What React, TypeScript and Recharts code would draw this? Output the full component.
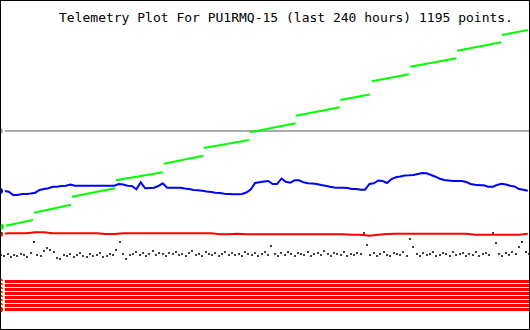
import { ComposedChart, Line, Scatter, XAxis, YAxis } from "recharts";

// x = hours into the 240 h window, y = plot units (0 at bottom, 330 at top)
const TITLE = "Telemetry Plot For PU1RMQ-15 (last 240 hours) 1195 points.";

// blue channel, one sample every 2 hours
const BLUE_STEP = 2;
const blueValues = [
  139, 139, 138.3, 135, 135, 136, 136, 136.5, 137.3, 140,
  141, 141.7, 143.3, 143.3, 144, 144.3, 145.5, 144.3, 144.3, 144.3,
  144.3, 144.3, 144.3, 144.3, 144.3, 144.3, 144.3, 146, 145.5, 144.3,
  144, 140.7, 147.7, 141.7, 142, 142.3, 144, 146.7, 142.3, 142.3,
  142.3, 142.3, 141.5, 141, 140, 139.7, 139.3, 138.5, 138, 137.3,
  137, 136.3, 136, 135.7, 135.7, 136, 137.5, 140.5, 147, 147.7,
  148.5, 149, 146, 146, 151.5, 148.3, 147.3, 149.7, 149.7, 147.7,
  146.7, 146.5, 146, 145, 144.3, 143.3, 142.5, 142.3, 142.3, 142,
  141, 141, 140.3, 140.3, 146, 146.7, 149.5, 149, 147, 151,
  152.7, 153.5, 154.5, 154.7, 155, 156, 157, 156.7, 155, 153.3,
  151.3, 150, 149.5, 149, 149, 149, 148, 146, 145.3, 144.7,
  144.7, 143.3, 143.3, 145, 146.3, 145.5, 144.3, 143.5, 141, 140.3,
  139.3,
];

// red channel, one sample every 4 hours
const RED_STEP = 4;
const redValues = [
  96, 96.7, 96.7, 96.7, 97.7, 97.7, 96.7, 96.7, 96.7, 96.7,
  96.7, 96.7, 96, 96, 96.7, 96.7, 96.7, 96.7, 96.7, 96.7,
  96.7, 96.7, 96.7, 96.7, 96.7, 95.7, 95.7, 96.3, 95.7, 95.7,
  95.7, 95.7, 95.7, 95.7, 95.7, 95.7, 95.7, 95.7, 95.7, 95.7,
  95.3, 95.3, 94.3, 95.3, 96, 96.3, 96.3, 96.3, 96.3, 96.3,
  96.3, 96.3, 96.3, 96.3, 95.3, 95.3, 95.3, 95.3, 95.3, 95.3,
  96.3,
];

// dark grey channel, one sample every 1.5 hours
const BLACK_STEP = 1.5;
const blackValues = [
  75, 74, 76, 73, 75, 74, 76, 75, 73, 77,
  88, 75, 74, 79, 82, 80, 78, 72, 71, 75,
  74, 76, 73, 75, 77, 74, 73, 76, 74, 75,
  77, 73, 74, 76, 75, 80, 88, 76, 71, 75,
  76, 78, 75, 77, 74, 76, 79, 75, 77, 76,
  74, 77, 76, 78, 75, 76, 74, 77, 79, 75,
  76, 74, 78, 76, 75, 77, 74, 76, 78, 75,
  77, 75, 76, 74, 78, 76, 75, 77, 74, 76,
  78, 75, 84, 76, 74, 77, 75, 78, 76, 74,
  77, 76, 75, 78, 74, 76, 77, 75, 79, 76,
  74, 77, 76, 75, 78, 74, 76, 75, 77, 76,
  97, 85, 75, 77, 74, 76, 78, 75, 74, 77,
  76, 75, 78, 74, 91, 83, 76, 74, 77, 75,
  76, 78, 74, 75, 77, 76, 74, 78, 75, 76,
  77, 74, 76, 75, 78, 74, 76, 77, 75, 97,
  87, 76, 74, 77, 75, 78, 76, 83, 88, 78,
  76,
];

// green counter: rising runs with a jump between each
const greenStartHour = [0.5, 15.5, 32.7, 52.7, 74.5, 92.7, 113.6, 134.5, 154.7, 169.1, 186.5, 207.9, 228.3];
const greenEndHour = [15, 32.3, 52.3, 74.1, 92.4, 113.3, 134.4, 154.5, 168.2, 186, 207.6, 228, 240];
const greenStartValue = [103.3, 117.3, 133.3, 149.7, 166.3, 182, 197.7, 214.3, 230, 248.7, 263.3, 279.3, 295];
const greenEndValue = [110, 125.3, 141.7, 157.7, 174.3, 190, 206.7, 222.7, 235.5, 255.7, 271.7, 287.7, 300];

// flat channels
const greyValue = 199;
const bitLevels = [48.5, 44.5, 40.5, 36.5, 32.5, 28.5, 24.5, 20.5];

const toSeries = (values: number[], step: number) =>
  values.map((v, i) => ({ h: i * step, v }));

const blueData = toSeries(blueValues, BLUE_STEP);
const redData = toSeries(redValues, RED_STEP);
const blackData = toSeries(blackValues, BLACK_STEP);

const greenData = greenStartHour.flatMap((start, i) => [
  { h: start, v: greenStartValue[i] },
  { h: greenEndHour[i], v: greenEndValue[i] },
  { h: greenEndHour[i] + 0.1, v: null as number | null },
]);

const greyData = [
  { h: 0, v: greyValue },
  { h: 241, v: greyValue },
];

const Dot = (props: any) => {
  const { cx, cy } = props;
  if (cx == null || cy == null) return null;
  return (
    <rect
      x={Math.round(cx)}
      y={Math.round(cy) - 1}
      width={2}
      height={2}
      fill="#404040"
      shapeRendering="crispEdges"
    />
  );
};

export default function App() {
  return (
    <div
      style={{
        position: "absolute",
        left: 0,
        top: 0,
        width: 530,
        height: 330,
        background: "#ffffff",
      }}
    >
      <ComposedChart width={530} height={330} margin={{ top: 0, right: 0, bottom: 0, left: 0 }}>
        <XAxis dataKey="h" type="number" domain={[0, 241]} allowDataOverflow hide height={0} padding={{ left: 0, right: 0 }} />
        <YAxis type="number" domain={[0, 330]} allowDataOverflow hide width={0} padding={{ top: 0, bottom: 0 }} />
        {bitLevels.map((level, i) => (
          <Line
            key={`bit-${i}`}
            data={[
              { h: 0, v: level },
              { h: 241, v: level },
            ]}
            dataKey="v"
            stroke="#ff0000"
            strokeWidth={3}
            dot={false}
            isAnimationActive={false}
          />
        ))}
        <Line data={greyData} dataKey="v" stroke="#aaaaaa" strokeWidth={2} dot={false} isAnimationActive={false} />
        <Scatter data={blackData} dataKey="v" shape={Dot} isAnimationActive={false} />
        <Line data={redData} dataKey="v" stroke="#ff0000" strokeWidth={2} dot={false} isAnimationActive={false} />
        <Line data={blueData} dataKey="v" stroke="#0000ff" strokeWidth={2} dot={false} isAnimationActive={false} />
        <Line data={greenData} dataKey="v" stroke="#00ff00" strokeWidth={2} dot={false} isAnimationActive={false} />
      </ComposedChart>
      <div
        style={{
          position: "absolute",
          left: 59,
          top: 10,
          fontFamily: "'DejaVu Sans Mono', monospace",
          fontSize: 13,
          lineHeight: "15px",
          color: "#000000",
          whiteSpace: "pre",
        }}
      >
        {TITLE}
      </div>
      <div
        style={{
          position: "absolute",
          left: 0,
          top: 0,
          width: 530,
          height: 330,
          boxSizing: "border-box",
          border: "1px solid #000000",
          pointerEvents: "none",
        }}
      />
    </div>
  );
}
